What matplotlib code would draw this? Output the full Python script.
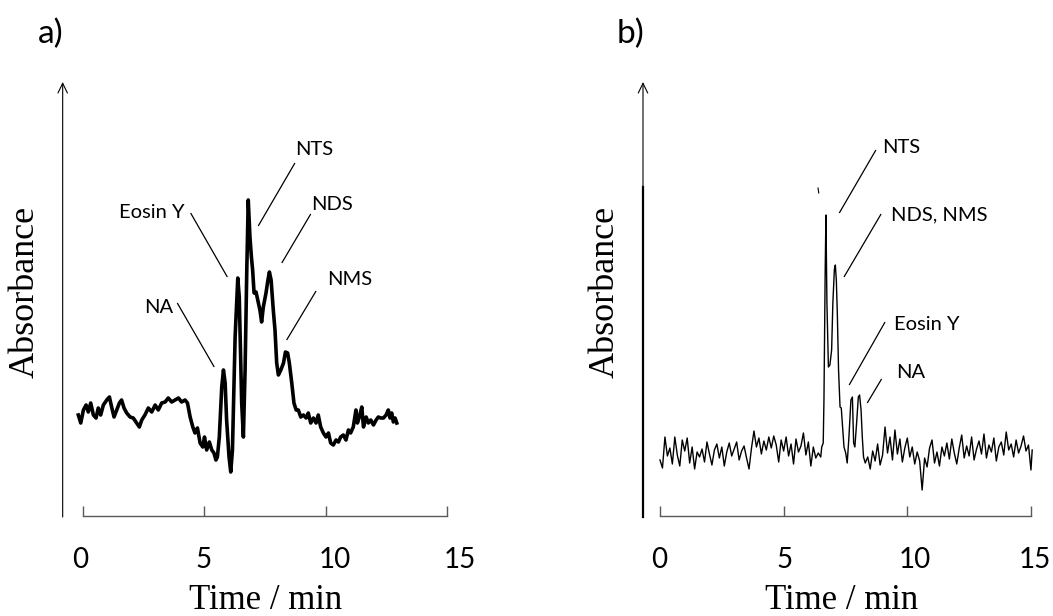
import matplotlib
matplotlib.use('Agg')
import matplotlib.pyplot as plt

# ---------------- data ----------------
# Panel a) time (min) and absorbance (arbitrary units)
time_a = [-0.18, -0.08, 0.03, 0.14, 0.23, 0.33, 0.44, 0.55, 0.64, 0.74, 0.85, 0.99,
          1.10, 1.19, 1.29, 1.40, 1.51, 1.60, 1.70, 1.81, 1.95, 2.08, 2.22, 2.33,
          2.43, 2.56, 2.70, 2.84, 2.98, 3.11, 3.25, 3.39, 3.52, 3.66, 3.80, 3.94,
          4.07, 4.21, 4.31, 4.42, 4.53, 4.62, 4.72, 4.83, 4.94, 5.01, 5.10, 5.21,
          5.31, 5.40, 5.48, 5.54, 5.62, 5.72, 5.79, 5.86, 5.92, 6.02, 6.09, 6.16,
          6.27, 6.38, 6.44, 6.54, 6.61, 6.68, 6.75, 6.81, 6.88, 6.94, 6.99, 7.05,
          7.13, 7.23, 7.29, 7.36, 7.43, 7.54, 7.62, 7.68, 7.75, 7.84, 7.91, 7.98,
          8.05, 8.15, 8.26, 8.34, 8.43, 8.50, 8.60, 8.69, 8.78, 8.87, 8.97, 9.08,
          9.19, 9.28, 9.38, 9.49, 9.60, 9.69, 9.79, 9.90, 10.01, 10.11, 10.20, 10.31,
          10.42, 10.52, 10.61, 10.72, 10.83, 10.93, 11.02, 11.13, 11.24, 11.30, 11.38, 11.48,
          11.55, 11.66, 11.75, 11.85, 11.96, 12.07, 12.16, 12.26, 12.37, 12.48, 12.57, 12.64,
          12.71, 12.78, 12.85, 12.92]
absorb_a = [10.1, 9.3, 10.6, 11.1, 10.4, 11.3, 10.1, 9.8, 10.8, 10.1, 11.1, 11.6,
            11.9, 10.9, 9.9, 10.6, 11.3, 11.6, 10.8, 10.3, 9.9, 9.8, 9.3, 8.9,
            9.6, 10.1, 10.8, 10.4, 11.1, 10.6, 11.3, 11.4, 11.8, 11.4, 11.6, 11.8,
            11.4, 11.6, 11.3, 9.9, 8.9, 8.3, 8.8, 7.3, 6.9, 7.9, 6.6, 7.4,
            6.6, 6.3, 5.6, 5.9, 7.9, 12.9, 14.6, 13.3, 9.6, 5.9, 4.4, 6.6,
            17.9, 23.8, 21.9, 11.3, 7.9, 14.6, 24.6, 31.6, 27.9, 25.9, 24.6, 22.3,
            22.4, 21.3, 20.6, 19.4, 20.9, 22.3, 23.6, 24.4, 23.6, 20.6, 18.6, 15.3,
            14.1, 14.6, 15.3, 16.4, 16.3, 15.3, 13.3, 11.3, 10.6, 10.6, 9.9, 10.1,
            9.8, 10.3, 9.3, 9.8, 9.3, 10.1, 8.9, 8.3, 7.9, 8.3, 7.3, 7.1,
            7.6, 7.4, 7.9, 8.1, 7.6, 8.6, 8.3, 8.9, 10.6, 9.3, 9.9, 10.9,
            8.9, 9.9, 9.3, 9.6, 9.1, 9.6, 9.9, 9.8, 9.8, 10.1, 10.6, 9.8,
            10.3, 9.4, 9.8, 9.3]

# Panel b) time (min) and absorbance (arbitrary units)
time_b = [0.0, 0.1, 0.2, 0.3, 0.4, 0.5, 0.6, 0.7, 0.8, 0.9, 1.0, 1.1, 1.2, 1.3, 1.4,
          1.5, 1.6, 1.7, 1.8, 1.9, 2.0, 2.1, 2.2, 2.3, 2.4, 2.5, 2.6, 2.7, 2.8, 2.9,
          3.0, 3.1, 3.2, 3.3, 3.4, 3.5, 3.6, 3.7, 3.8, 3.9, 4.0, 4.1, 4.2, 4.3, 4.4,
          4.5, 4.6, 4.7, 4.8, 4.9, 5.0, 5.1, 5.2, 5.3, 5.4, 5.5, 5.6, 5.7, 5.8, 5.9,
          6.0, 6.1, 6.2, 6.3, 6.4, 6.5, 6.54, 6.60, 6.63, 6.68, 6.71, 6.75, 6.81,
          6.87, 6.94, 6.99, 7.05, 7.09, 7.13, 7.17, 7.22, 7.28, 7.33, 7.39, 7.44,
          7.51, 7.57, 7.64, 7.72, 7.78, 7.83, 7.88, 7.95, 8.02, 8.07, 8.13, 8.18,
          8.23, 8.30, 8.4, 8.5, 8.6, 8.7, 8.8, 8.9, 9.0, 9.1, 9.2, 9.3, 9.4, 9.5,
          9.6, 9.7, 9.8, 9.9, 10.0, 10.1, 10.2, 10.3, 10.4, 10.5, 10.6, 10.7, 10.8,
          10.9, 11.0, 11.1, 11.2, 11.3, 11.4, 11.5, 11.6, 11.7, 11.8, 11.9, 12.0,
          12.1, 12.2, 12.3, 12.4, 12.5, 12.6, 12.7, 12.8, 12.9, 13.0, 13.1, 13.2,
          13.3, 13.4, 13.5, 13.6, 13.7, 13.8, 13.9, 14.0, 14.1, 14.2, 14.3, 14.4,
          14.5, 14.6, 14.7, 14.8, 14.9, 15.0, 15.05]
absorb_b = [5.6, 4.8, 7.9, 6.0, 6.8, 5.2, 7.9, 6.1, 5.0, 7.6, 6.5, 7.8, 5.3, 6.9, 4.7,
            6.4, 5.9, 6.7, 5.4, 7.4, 6.2, 5.1, 6.6, 7.2, 5.8, 6.9, 5.0, 6.4, 7.3, 6.0,
            6.7, 7.4, 5.6, 6.5, 7.0, 5.8, 4.7, 6.8, 8.5, 6.9, 7.8, 6.2, 7.5, 6.6, 7.9,
            6.8, 8.0, 7.1, 5.4, 7.6, 6.5, 7.9, 6.0, 7.2, 5.2, 7.7, 6.4, 7.0, 8.3, 6.1,
            7.4, 5.0, 6.9, 5.8, 6.3, 5.9, 6.9, 7.3, 11.6, 24.6, 30.1, 21.3, 14.9,
            15.1, 16.6, 21.3, 24.6, 25.1, 23.6, 20.3, 14.6, 10.9, 10.8, 8.6, 6.9,
            6.3, 5.3, 7.9, 11.6, 11.9, 7.3, 6.9, 9.3, 11.9, 12.1, 10.6, 7.9,
            5.9, 5.3, 5.9, 4.7, 6.5, 5.5, 7.2, 5.1, 6.1, 8.9, 6.3, 7.9, 5.6, 8.6,
            6.2, 7.7, 5.4, 6.8, 7.8, 5.9, 6.9, 5.2, 6.4, 5.5, 2.6, 5.8, 4.9,
            6.8, 7.6, 5.3, 6.4, 5.0, 6.9, 6.0, 7.3, 5.7, 7.7, 6.3, 5.2,
            6.8, 8.1, 5.8, 7.0, 6.0, 7.9, 5.6, 6.7, 7.5, 6.2, 8.2, 5.8,
            7.1, 6.4, 7.8, 5.5, 6.9, 7.4, 6.1, 8.4, 6.6, 7.2, 5.9, 7.6,
            6.3, 7.0, 8.0, 6.5, 7.1, 4.6, 6.6]
stray_t = [6.39, 6.42]
stray_a = [32.8, 32.3]

tick_values = [0, 5, 10, 15]
tick_labels = ['0', '5', '10', '15']

# peak labels: (text, text x, text baseline y, leader start, leader end)
labels_a = [('NTS', 9.51, 36.1, (8.73, 35.3), (7.22, 29.0)),
            ('NDS', 10.25, 30.6, (9.38, 30.2), (8.19, 25.3)),
            ('NMS', 11.0, 23.1, (9.60, 22.5), (8.39, 17.6)),
            ('Eosin Y', 2.85, 29.8, (4.44, 30.3), (5.95, 23.9)),
            ('NA', 3.14, 20.3, (3.89, 21.3), (5.41, 14.9))]
labels_b = [('NTS', 9.75, 36.3, (8.73, 36.6), (7.25, 30.3)),
            ('NDS, NMS', 11.28, 29.6, (8.94, 30.2), (7.44, 23.9)),
            ('Eosin Y', 10.78, 18.6, (9.10, 19.4), (7.65, 13.1)),
            ('NA', 10.15, 13.8, (8.96, 13.7), (8.38, 11.3))]

# ---------------- layout ----------------
W, H, DPI = 1053, 616, 100
fig = plt.figure(figsize=(W / DPI, H / DPI), dpi=DPI)
SANS = ['Lato', 'DejaVu Sans']
SERIF = ['Liberation Serif', 'DejaVu Serif']


def px_axes(left, top, right, bottom):
    return fig.add_axes([left / W, 1 - bottom / H, (right - left) / W, (bottom - top) / H])


def fig_text(x, y, s, **kw):
    fig.text(x / W, 1 - y / H, s, **kw)


def style_axis(ax, xlim, arrow_x):
    ax.set_xlim(*xlim)
    ax.set_ylim(-1.4, 45.6)
    for side in ('top', 'right', 'left'):
        ax.spines[side].set_visible(False)
    ax.spines['bottom'].set_position(('data', 0))
    ax.spines['bottom'].set_bounds(0, 15)
    ax.spines['bottom'].set_color('#595959')
    ax.spines['bottom'].set_linewidth(1.0)
    ax.set_xticks(tick_values)
    ax.tick_params(axis='x', direction='in', length=7, width=1.0, color='#595959',
                   labelbottom=False)
    ax.set_yticks([])
    ax.patch.set_alpha(0)
    ax.annotate('', xy=(arrow_x, 43.4), xytext=(arrow_x, -0.1),
                arrowprops=dict(arrowstyle='->,head_length=0.35,head_width=0.17',
                                lw=0.8, color='black', shrinkA=0, shrinkB=0,
                                mutation_scale=20),
                annotation_clip=False)


def add_labels(ax, labels):
    for txt, tx, ty, p0, p1 in labels:
        ax.text(tx, ty, txt, ha='center', va='baseline', fontsize=14.5,
                family=SANS, color='black')
        ax.plot([p0[0], p1[0]], [p0[1], p1[1]], color='black', lw=0.9,
                solid_capstyle='butt')


# panel a
ax_a = px_axes(40, 60, 480, 530)
style_axis(ax_a, (-1.756, 16.343), -0.823)
ax_a.plot(time_a, absorb_a, color='black', lw=2.6, solid_joinstyle='round')
add_labels(ax_a, labels_a)

# panel b
ax_b = px_axes(620, 60, 1050, 530)
style_axis(ax_b, (-1.617, 15.77), -0.687)
ax_b.plot([-0.687, -0.687], [-0.1, 32.9], color='black', lw=1.6)
ax_b.plot(time_b, absorb_b, color='black', lw=1.0)
ax_b.plot(stray_t, stray_a, color='black', lw=0.8)
add_labels(ax_b, labels_b)

# tick labels, panel letters and axis titles
for xs in ([80, 204, 335, 460], [659, 785, 915, 1035]):
    for x, lab in zip(xs, tick_labels):
        fig_text(x, 568, lab, ha='center', va='baseline', fontsize=20, family=SANS)

fig_text(38, 43, 'a)', ha='left', va='baseline', fontsize=24, family=SANS)
fig_text(617, 43, 'b)', ha='left', va='baseline', fontsize=24, family=SANS)
for x in (25, 605):
    fig_text(x, 292, 'Absorbance', rotation=90, ha='center', va='center',
             fontsize=26, family=SERIF)
for x in (266, 842):
    fig_text(x, 609, 'Time / min', ha='center', va='baseline', fontsize=25, family=SERIF)

fig.savefig('out.png', dpi=DPI)
